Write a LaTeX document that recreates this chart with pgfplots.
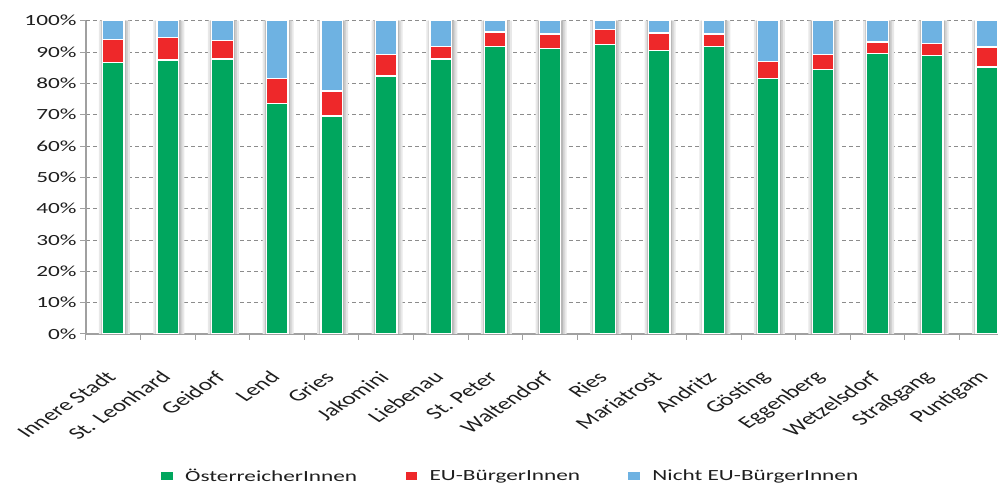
\documentclass[border=0pt]{standalone}
\usepackage{pgfplots}
\usepackage{pgfplotstable}
\pgfplotsset{compat=1.18}
\usepackage{fontspec}
\setmainfont{Carlito}[FakeStretch=1.5]
\newfontfamily\plainfont{Carlito}

\definecolor{oegreen}{RGB}{0,166,94}
\definecolor{eured}{RGB}{238,40,42}
\definecolor{nonblue}{RGB}{110,178,226}
\definecolor{axisgray}{RGB}{160,160,160}
\definecolor{labelgray}{RGB}{30,30,30}

% Bevoelkerung nach Staatsangehoerigkeit, Anteile in Prozent
\pgfplotstableread{
x    oe    eu   neu
0.5  86.7  7.3  6.0
1.5  87.5  7.1  5.4
2.5  87.8  5.9  6.3
3.5  73.5  8.0  18.5
4.5  69.6  8.0  22.4
5.5  82.4  6.8  10.8
6.5  87.8  4.0  8.2
7.5  91.7  4.7  3.6
8.5  91.2  4.6  4.2
9.5  92.4  4.8  2.8
10.5 90.4  5.7  3.9
11.5 91.8  4.0  4.2
12.5 81.5  5.5  13.0
13.5 84.4  4.8  10.8
14.5 89.5  3.7  6.8
15.5 88.9  3.9  7.2
16.5 85.2  6.4  8.4
}\bezirke

\pgfplotsset{
  bezirksrahmen/.style={
    scale only axis, width=928pt, height=313.3pt,
    at={(86pt,150pt)}, anchor=south west,
    xmin=0, xmax=17, ymin=0, ymax=100,
  },
}

\begin{document}
\begin{tikzpicture}[x=1pt,y=1pt]
\path[use as bounding box] (0,0) rectangle (998,484);
\clip (0,0) rectangle (998,484);

% Rahmen, Raster, Beschriftung und Schatten der Saeulen
\begin{axis}[
  bezirksrahmen,
  ybar, bar width=31pt,
  axis x line*=bottom, axis y line*=left,
  axis line style={axisgray, line width=1.2pt},
  ytick={0,10,...,100},
  yticklabels={0\%,10\%,20\%,30\%,40\%,50\%,60\%,70\%,80\%,90\%,100\%},
  yticklabel style={font=\fontsize{15.5}{18}\selectfont, text=labelgray},
  ymajorgrids,
  major grid style={dash pattern=on 4pt off 3pt, black!45, line width=0.8pt},
  tick align=outside,
  major tick length=6pt, minor tick length=6pt,
  tick style={axisgray, line width=1pt},
  xtick={0.5,1.5,...,16.5},
  xticklabels={Innere Stadt,St. Leonhard,Geidorf,Lend,Gries,Jakomini,Liebenau,St. Peter,Waltendorf,Ries,Mariatrost,Andritz,Gösting,Eggenberg,Wetzelsdorf,Straßgang,Puntigam},
  xticklabel style={font=\plainfont\fontsize{17}{20}\selectfont, text=labelgray,
    yshift=-32pt, xshift=1.5pt, xscale=1.5, rotate=45, anchor=east},
  major x tick style={draw=none},
  minor xtick={0,1,...,17},
]
\addplot[fill=black!9, draw=none, bar shift=1pt] table[x=x, y expr=100] {\bezirke};
\addplot[fill=black!18, draw=none, bar shift=1pt, bar width=27pt] table[x=x, y expr=100] {\bezirke};
\addplot[fill=black!28, draw=none, bar shift=0.5pt, bar width=24.5pt] table[x=x, y expr=100] {\bezirke};
\end{axis}

% Gestapelte Anteile
\begin{axis}[
  bezirksrahmen,
  hide axis,
  ybar stacked, bar width=21.5pt,
  legend columns=3,
  legend style={draw=none, fill=none, at={(0.4569,-0.4533)}, anchor=center,
    font=\fontsize{15.5}{18}\selectfont, text=labelgray,
    nodes={inner ysep=1pt},
    /tikz/every odd column/.append style={column sep=9pt},
    /tikz/every even column/.append style={column sep=45pt}},
  legend image code/.code={\fill[#1] (0pt,-5pt) rectangle (13pt,5pt);},
]
\addplot[fill=oegreen, draw=white, line width=1.4pt] table[x=x, y=oe] {\bezirke};
\addplot[fill=eured, draw=white, line width=1.4pt] table[x=x, y=eu] {\bezirke};
\addplot[fill=nonblue, draw=white, line width=1.4pt] table[x=x, y=neu] {\bezirke};
\legend{ÖsterreicherInnen, EU-BürgerInnen, Nicht EU-BürgerInnen}
\end{axis}
\end{tikzpicture}
\end{document}
